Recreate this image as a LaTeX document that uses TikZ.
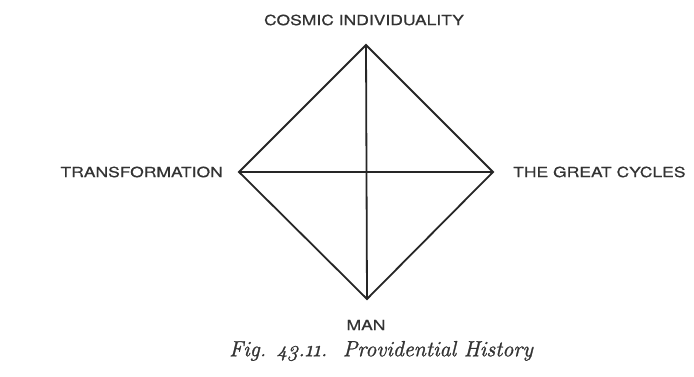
\documentclass[tikz,border=0pt]{standalone}
\usepackage{fontspec}
\newfontfamily\labfont[FakeStretch=1.25,FakeBold=0.6]{TeX Gyre Heros}
\newfontfamily\capfont[FakeBold=1.2,Numbers=OldStyle]{Latin Modern Roman}
\begin{document}
\begin{tikzpicture}[x=1pt,y=-1pt,
  lab/.style={font=\labfont\fontsize{14}{16}\selectfont, text=black!80, inner sep=0pt},
  edge/.style={line width=1.8pt, draw=black!85, line join=miter}]
\useasboundingbox[fill=white] (0,0) rectangle (694,377);
\coordinate (t) at (366,45);
\coordinate (b) at (367,299);
\coordinate (l) at (239,172);
\coordinate (r) at (493,172);
\draw[edge] (t) -- (r) -- (b) -- (l) -- cycle;
\draw[edge] (t) -- (b);
\draw[edge] (l) -- (r);
\node[lab] (tl) at (364,20) {COSMIC INDIVIDUALITY};
\node[lab, anchor=east] (ll) at (223,172) {TRANSFORMATION};
\node[lab, anchor=west] (rl) at (513,172) {THE GREAT CYCLES};
\node[lab] (bl) at (366,325) {MAN};
\node[inner sep=0pt, text=black!80, font=\capfont\fontsize{22}{24}\selectfont\itshape] (cap) at (381,351) {Fig. 43.11.\ \ Providential History};
\end{tikzpicture}
\end{document}
